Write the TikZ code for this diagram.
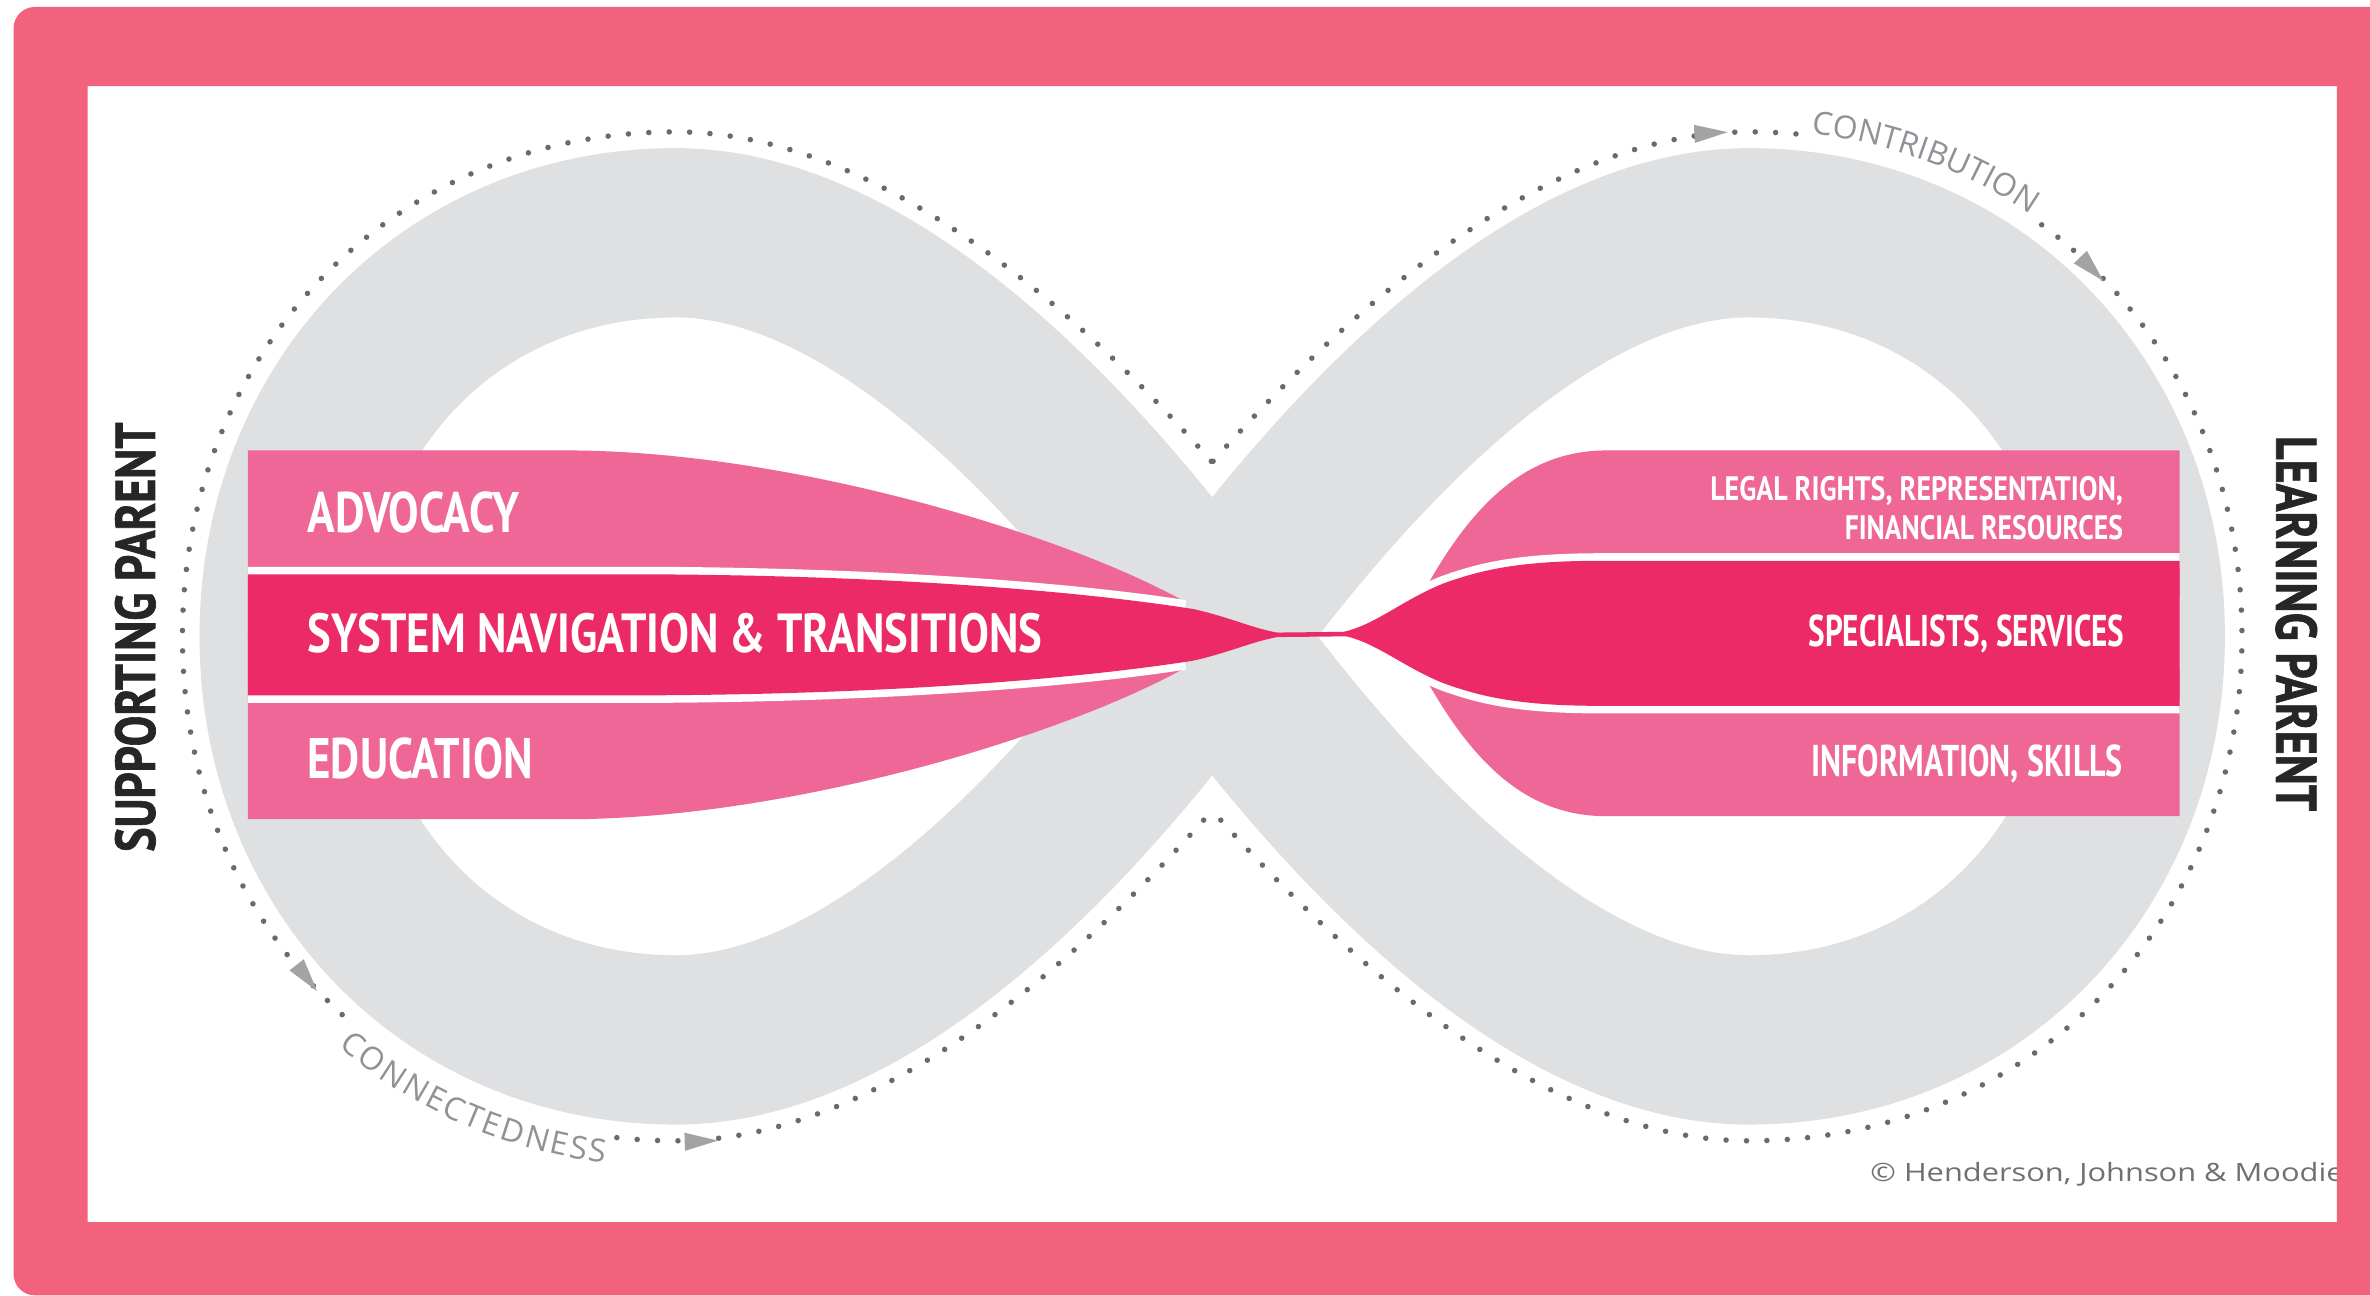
\documentclass[tikz,border=0pt]{standalone}
\usepackage{fontspec}
\usepackage{graphicx}
\usetikzlibrary{decorations.text}
\newfontfamily\barfont{PT Sans}
\newfontfamily\heavyfont{PT Sans}[BoldFeatures={FakeBold=1.3}]
\newfontfamily\osans{Open Sans}
\definecolor{framepink}{HTML}{F2627C}
\definecolor{bandgray}{HTML}{DFE0E2}
\definecolor{lightpink}{HTML}{EE6797}
\definecolor{darkpink}{HTML}{EC2A67}
\definecolor{dotgray}{HTML}{6A6A6A}
\definecolor{arrowgray}{HTML}{A3A3A3}
\definecolor{labelgray}{HTML}{8F9397}
\definecolor{labelblack}{HTML}{262626}
\definecolor{copygray}{HTML}{707070}
\newcommand\arclabelfont{\osans\fontsize{9pt}{9pt}\selectfont}
\begin{document}
\begin{tikzpicture}[x=0.015cm, y=-0.015cm,
  dotline/.style={draw=dotgray, line width=0.055cm, line cap=round, dash pattern=on 0pt off 0.2025cm},
  eraser/.style={draw=white, line width=0.15cm},
  sepline/.style={draw=white, line width=0.15cm},
  arrowtip/.style={fill=arrowgray},
  barlabel/.style={inner sep=0pt, text=white, font=\barfont\bfseries},
  sidelabel/.style={inner sep=0pt, text=labelblack, font=\heavyfont\bfseries},
]
\fill[white] (0,0) rectangle (1568,857);
\useasboundingbox (0,0) rectangle (1568,857);

% dotted outline, left loop
\begin{scope}
\clip (0,0) rectangle (802,857);
\path[dotline] (894.3,421) .. controls (820,319.75) and (636,87.25) .. (447,87.25)
  .. controls (258,87.25) and (120.7,233.5) .. (120.7,421)
  .. controls (120.7,608.5) and (258,754.75) .. (447,754.75)
  .. controls (636,754.75) and (820,522.25) .. (894.3,421);
\end{scope}
% dotted outline, right loop
\begin{scope}
\clip (802,0) rectangle (1568,857);
\path[dotline] (709.7,421) .. controls (784,319.75) and (968,87.25) .. (1157,87.25)
  .. controls (1346,87.25) and (1483.3,233.5) .. (1483.3,421)
  .. controls (1483.3,608.5) and (1346,754.75) .. (1157,754.75)
  .. controls (968,754.75) and (784,522.25) .. (709.7,421);
\end{scope}
% gaps for the labels on the dotted line
\draw[eraser] (1196,89.5) .. controls (1251.9,96.0) and (1300.2,114.2) .. (1343,143);
\draw[eraser] (233,677.5) .. controls (280.5,717.8) and (337.8,743.8) .. (405,752.3);

% arrowheads
\fill[arrowtip, shift={(1132,88)}, rotate=3] (11,0) -- (-11,6) -- (-11,-6) -- cycle;
\fill[arrowtip, shift={(1384,178)}, rotate=-46] (11,0) -- (-11,6) -- (-11,-6) -- cycle;
\fill[arrowtip, shift={(203,647)}, rotate=-52] (11,0) -- (-11,6) -- (-11,-6) -- cycle;
\fill[arrowtip, shift={(464,755)}, rotate=2] (11,0) -- (-11,6) -- (-11,-6) -- cycle;

% infinity band
\draw[bandgray, line width=1.68cm] (802,421) .. controls (861,340) and (1007,154) .. (1157,154)
  .. controls (1307,154) and (1416,271) .. (1416,421)
  .. controls (1416,571) and (1307,688) .. (1157,688)
  .. controls (1007,688) and (861,502) .. (802,421)
  .. controls (743,340) and (597,154) .. (447,154)
  .. controls (297,154) and (188,271) .. (188,421)
  .. controls (188,571) and (297,688) .. (447,688)
  .. controls (597,688) and (743,502) .. cycle;

% curved labels
\path[decorate, decoration={text along path, text={|\arclabelfont\color{labelgray}|CONTRIBUTION}, text align={fit to path}, raise=0.5pt}]
  (1198.6,89.7) .. controls (1251.9,96.0) and (1300.2,114.2) .. (1341.2,141.9);
\path[decorate, decoration={text along path, text={|\arclabelfont\color{labelgray}|CONNECTEDNESS}, text align={fit to path}, raise=-7.5pt}]
  (234.8,678.8) .. controls (280.5,717.8) and (337.8,743.8) .. (402.7,752.0);

% left bars
\fill[lightpink] (164,298) -- (375,298) .. controls (520,298) and (700,352) .. (782,397) -- (790,421) -- (164,421) -- cycle;
\fill[lightpink] (164,542) -- (375,542) .. controls (520,542) and (700,488) .. (782,443) -- (790,419) -- (164,419) -- cycle;
\draw[sepline] (164,380) -- (436,380) .. controls (600,381) and (720,392) .. (784,402);
\draw[sepline] (164,460) -- (436,460) .. controls (600,459) and (720,448) .. (784,438);
\fill[darkpink] (164,380) -- (436,380) .. controls (600,381) and (720,392) .. (790,403)
  .. controls (820,410) and (835,419) .. (858,420)
  .. controls (835,421) and (820,430) .. (790,437)
  .. controls (720,448) and (600,459) .. (436,460) -- (164,460) -- cycle;
\draw[darkpink, line width=0.045cm] (845,420) -- (890,419.5);

% right bars
\fill[lightpink] (1442,298) -- (1063,298) .. controls (1012,298) and (975,330) .. (940,395) -- (1442,395) -- cycle;
\fill[lightpink] (1442,540) -- (1063,540) .. controls (1012,540) and (975,508) .. (940,443) -- (1442,443) -- cycle;
\draw[sepline] (1442,371) -- (1060,371) .. controls (1005,371) and (980,377) .. (955,386) .. controls (935,394) and (920,404) .. (905,412);
\draw[sepline] (1442,467) -- (1060,467) .. controls (1005,467) and (980,461) .. (955,452) .. controls (935,444) and (920,434) .. (905,426);
\fill[darkpink] (1442,371) -- (1060,371) .. controls (1005,371) and (980,377) .. (955,386)
  .. controls (925,398) and (905,418) .. (880,419.3) -- (880,419.7)
  .. controls (905,420) and (925,440) .. (955,452)
  .. controls (980,461) and (1005,467) .. (1060,467) -- (1442,467) -- cycle;

% bar labels
\node[barlabel, anchor=base west] (advocacy) at (203,352) {\resizebox{2.10cm}{0.405cm}{ADVOCACY}};
\node[barlabel, anchor=base west] (system) at (203,432) {\resizebox{7.29cm}{0.39cm}{SYSTEM NAVIGATION \& TRANSITIONS}};
\node[barlabel, anchor=base west] (education) at (203,515) {\resizebox{2.235cm}{0.405cm}{EDUCATION}};
\node[barlabel, anchor=base east] (legal) at (1405,331) {\resizebox{4.095cm}{0.24cm}{LEGAL RIGHTS, REPRESENTATION,}};
\node[barlabel, anchor=base east] (financial) at (1405,357) {\resizebox{2.76cm}{0.24cm}{FINANCIAL RESOURCES}};
\node[barlabel, anchor=base east] (specialists) at (1406,428) {\resizebox{3.135cm}{0.315cm}{SPECIALISTS, SERVICES}};
\node[barlabel, anchor=base east] (information) at (1405,514) {\resizebox{3.09cm}{0.315cm}{INFORMATION, SKILLS}};

% side labels
\node[sidelabel, anchor=base west, rotate=90] (supporting) at (102.5,564) {\resizebox{4.26cm}{0.3975cm}{SUPPORTING PARENT}};
\node[sidelabel, anchor=base west, rotate=-90] (learning) at (1506,288) {\resizebox{3.72cm}{0.405cm}{LEARNING PARENT}};

% copyright
\node[inner sep=0pt, anchor=base west, text=copygray, font=\osans] (copyright) at (1237,782) {\resizebox{4.695cm}{0.19cm}{© Henderson, Johnson \& Moodie}};

% frame
\fill[framepink, even odd rule] [rounded corners=6pt] (9,4.6) rectangle (1620,857) [sharp corners] (58,57) rectangle (1546,808.5);
\end{tikzpicture}
\end{document}
